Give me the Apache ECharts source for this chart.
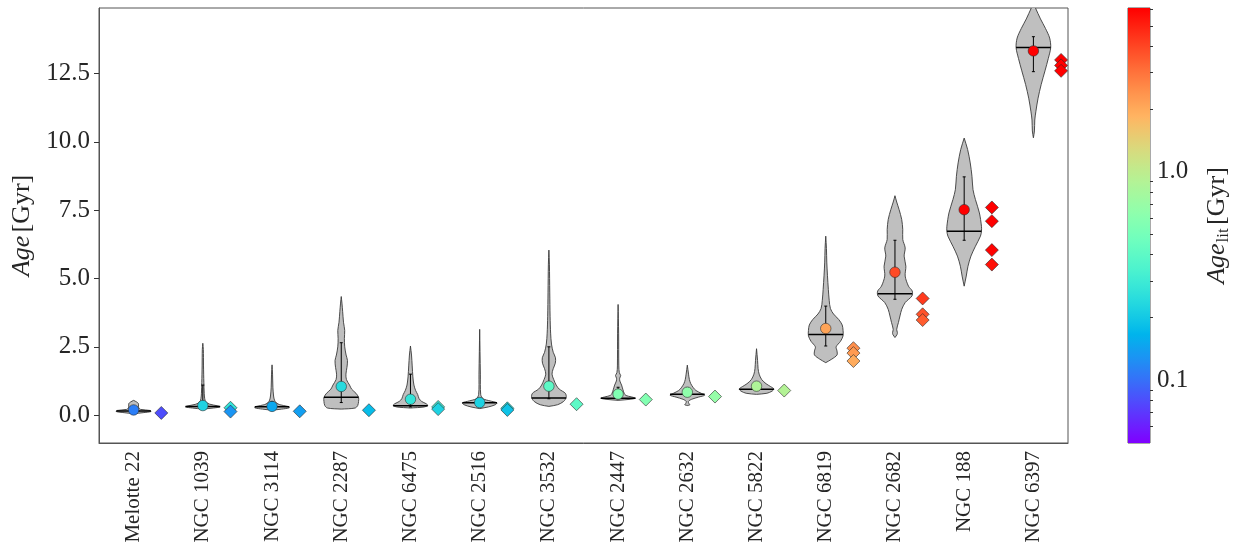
<!DOCTYPE html>
<html>
<head>
<meta charset="utf-8">
<script src="https://cdn.jsdelivr.net/npm/echarts@6/dist/echarts.min.js"></script>
<style>
  html, body { margin: 0; padding: 0; background: #ffffff; }
  #chart { width: 1236px; height: 547px; }
</style>
</head>
<body>
<div id="chart"></div>
<script>
// Cluster names, in plotting order
const clusters = ['Melotte 22', 'NGC 1039', 'NGC 3114', 'NGC 2287', 'NGC 6475', 'NGC 2516', 'NGC 3532',
  'NGC 2447', 'NGC 2632', 'NGC 5822', 'NGC 6819', 'NGC 2682', 'NGC 188', 'NGC 6397'];

// Posterior summaries per cluster (Gyr)
const medianAge = [0.15, 0.32, 0.31, 0.65, 0.34, 0.45, 0.63, 0.62, 0.76, 0.95, 2.95, 4.44, 6.73, 13.45];
const meanAge   = [0.19, 0.35, 0.32, 1.05, 0.58, 0.46, 1.06, 0.77, 0.84, 1.06, 3.17, 5.23, 7.52, 13.33];
const errLow    = [0.14, 0.30, 0.27, 0.46, 0.30, 0.40, 0.60, 0.60, 0.70, 0.95, 2.53, 4.24, 6.40, 12.57];
const errHigh   = [0.26, 1.10, 0.50, 2.65, 1.50, 0.55, 2.50, 1.02, 1.00, 1.18, 3.99, 6.40, 8.72, 13.85];

// Literature ages per cluster (Gyr)
const litAges = [
  [0.08],
  [0.27, 0.13],
  [0.14],
  [0.18],
  [0.30, 0.22],
  [0.25, 0.19],
  [0.40],
  [0.57],
  [0.68],
  [0.90],
  [2.45, 2.27, 1.98],
  [4.27, 3.69, 3.48],
  [7.60, 7.10, 6.04, 5.51],
  [13.0, 12.8, 12.6]
];

// Reference literature age used to colour each cluster's mean marker (Gyr)
const circleLitAge = [0.11, 0.22, 0.15, 0.24, 0.27, 0.22, 0.40, 0.56, 0.64, 0.86, 2.1, 3.9, 6.5, 12.8];

// Violin outlines: [age (Gyr), relative half-width (1 = widest)]
const violinShapes = [
  [[0.05,0],[0.09,0.55],[0.13,1.0],[0.17,0.95],[0.21,0.4],[0.26,0.3],[0.33,0.28],[0.42,0.28],[0.48,0.18],[0.54,0]],
  [[0.22,0],[0.26,0.6],[0.30,1.0],[0.34,0.85],[0.40,0.4],[0.48,0.18],[0.60,0.11],[0.80,0.08],[1.2,0.06],[1.8,0.04],[2.4,0.03],[2.63,0]],
  [[0.18,0],[0.22,0.55],[0.27,1.0],[0.32,0.9],[0.38,0.45],[0.45,0.25],[0.55,0.14],[0.70,0.09],[1.0,0.05],[1.5,0.03],[1.84,0]],
  [[0.22,0],[0.26,0.8],[0.35,0.95],[0.50,1.0],[0.65,1.0],[0.80,0.85],[0.95,0.6],[1.10,0.48],[1.30,0.3],[1.50,0.27],[1.75,0.33],[2.0,0.36],[2.2,0.28],[2.5,0.2],[2.8,0.18],[3.1,0.2],[3.4,0.13],[3.8,0.08],[4.1,0.04],[4.34,0]],
  [[0.26,0],[0.30,0.8],[0.36,1.0],[0.42,0.9],[0.50,0.65],[0.60,0.5],[0.75,0.42],[0.90,0.3],[1.10,0.2],[1.40,0.14],[1.80,0.1],[2.20,0.06],[2.53,0]],
  [[0.24,0],[0.30,0.5],[0.38,0.9],[0.45,1.0],[0.52,0.6],[0.60,0.2],[0.75,0.06],[1.5,0.04],[3.14,0]],
  [[0.32,0],[0.38,0.5],[0.50,0.85],[0.65,1.0],[0.80,0.95],[0.95,0.6],[1.10,0.42],[1.30,0.28],[1.50,0.18],[1.70,0.25],[1.90,0.37],[2.10,0.38],[2.30,0.25],[2.60,0.15],[3.0,0.1],[3.6,0.07],[4.5,0.05],[5.5,0.03],[6.04,0]],
  [[0.54,0],[0.58,0.7],[0.62,1.0],[0.67,0.75],[0.72,0.45],[0.80,0.35],[0.95,0.27],[1.10,0.2],[1.25,0.1],[1.35,0.09],[1.45,0.15],[1.55,0.07],[1.8,0.04],[3.0,0.03],[4.05,0]],
  [[0.35,0],[0.38,0.15],[0.42,0.1],[0.50,0.06],[0.58,0.25],[0.66,0.65],[0.73,1.0],[0.80,0.8],[0.90,0.5],[1.00,0.35],[1.15,0.2],[1.30,0.12],[1.50,0.07],[1.83,0]],
  [[0.76,0],[0.80,0.6],[0.88,0.9],[0.96,1.0],[1.05,0.8],[1.15,0.55],[1.30,0.3],[1.50,0.15],[1.70,0.09],[2.0,0.06],[2.43,0]],
  [[1.92,0],[2.05,0.35],[2.20,0.65],[2.35,0.65],[2.50,0.6],[2.70,0.85],[2.90,1.0],[3.10,1.0],[3.30,0.95],[3.50,0.75],[3.70,0.45],[3.90,0.27],[4.2,0.2],[4.6,0.15],[5.1,0.1],[5.6,0.06],[6.1,0.04],[6.55,0]],
  [[2.84,0],[2.95,0.12],[3.02,0.14],[3.14,0.1],[3.39,0.2],[3.63,0.29],[3.87,0.39],[4.12,0.59],[4.36,0.98],[4.54,1.0],[4.72,0.78],[5.09,0.59],[5.45,0.63],[5.82,0.53],[6.12,0.59],[6.43,0.45],[6.79,0.45],[7.16,0.39],[7.52,0.24],[7.8,0.1],[8.03,0]],
  [[4.72,0],[5.09,0.12],[5.45,0.22],[5.82,0.39],[6.18,0.65],[6.55,0.94],[6.73,1.0],[6.91,1.0],[7.40,0.88],[7.89,0.65],[8.25,0.51],[8.74,0.45],[9.23,0.35],[9.72,0.2],[10.14,0]],
  [[10.15,0],[10.4,0.06],[10.8,0.08],[11.1,0.14],[11.6,0.27],[12.1,0.45],[12.6,0.67],[13.05,0.86],[13.45,1.0],[13.8,0.94],[14.15,0.7],[14.5,0.41],[14.9,0.12],[15.05,0]]
];

// Axis ticks
const yTicks = [0, 2.5, 5, 7.5, 10, 12.5];
const cbarRange = [0.05, 6.1];
const cbarMajorTicks = [0.1, 1];
const cbarMinorTicks = [0.06, 0.07, 0.08, 0.09, 0.2, 0.3, 0.4, 0.5, 0.6, 0.7, 0.8, 0.9, 2, 3, 4, 5, 6];

// ---- colour mapping (rainbow colormap on a log scale) ----
function rainbow(t) {
  t = Math.min(1, Math.max(0, t));
  const r = Math.min(1, Math.abs(2 * t - 0.5));
  const g = Math.sin(Math.PI * t);
  const b = Math.cos(Math.PI * t / 2);
  return 'rgb(' + Math.round(r * 255) + ',' + Math.round(g * 255) + ',' + Math.round(b * 255) + ')';
}
function ageColour(v) {
  const lo = Math.log10(cbarRange[0]), hi = Math.log10(cbarRange[1]);
  return rainbow((Math.log10(v) - lo) / (hi - lo));
}

const serif = '"Liberation Serif", "DejaVu Serif", serif';
const textColour = '#262626';
const frameColour = '#555555';
const HALF = 0.25; // violin half-width in category units
const LIT_OFFSET = 0.4; // literature markers sit to the right of each violin

function violinItem(params, api) {
  const i = api.value(0);
  const shape = violinShapes[i];
  const cx = api.coord([i, 0])[0];
  const hw = api.size([1, 0])[0] * HALF;
  const right = shape.map(p => [cx + p[1] * hw, api.coord([i, p[0]])[1]]);
  const left = shape.slice().reverse().map(p => [cx - p[1] * hw, api.coord([i, p[0]])[1]]);
  return {
    type: 'polygon',
    shape: { points: right.concat(left), smooth: 0.3 },
    style: { fill: '#bfbfbf', stroke: '#3a3a3a', lineWidth: 0.9 }
  };
}

function summaryItem(params, api) {
  const i = api.value(0);
  const cx = api.coord([i, 0])[0];
  const hw = api.size([1, 0])[0] * HALF;
  const ym = api.coord([i, medianAge[i]])[1];
  const yl = api.coord([i, errLow[i]])[1];
  const yh = api.coord([i, errHigh[i]])[1];
  const line = { stroke: '#000000', lineWidth: 1 };
  return {
    type: 'group',
    children: [
      { type: 'line', shape: { x1: cx - hw, y1: ym, x2: cx + hw, y2: ym }, style: { stroke: '#000', lineWidth: 1.5 } },
      { type: 'line', shape: { x1: cx, y1: yl, x2: cx, y2: yh }, style: line },
      { type: 'line', shape: { x1: cx - 1.5, y1: yl, x2: cx + 1.5, y2: yl }, style: line },
      { type: 'line', shape: { x1: cx - 1.5, y1: yh, x2: cx + 1.5, y2: yh }, style: line }
    ]
  };
}

function diamondItem(params, api) {
  const i = api.value(0);
  const p = api.coord([i, api.value(1)]);
  const cx = p[0] + api.size([1, 0])[0] * LIT_OFFSET;
  const r = 6.5;
  return {
    type: 'polygon',
    shape: { points: [[cx, p[1] - r], [cx + r, p[1]], [cx, p[1] + r], [cx - r, p[1]]] },
    style: { fill: ageColour(api.value(1)), stroke: 'rgba(40,40,40,0.75)', lineWidth: 0.8 }
  };
}

function colourbarItem(params, api) {
  const p0 = api.coord([api.value(0), api.value(1)]);
  const p1 = api.coord([api.value(2), api.value(3)]);
  const stops = [];
  for (let k = 0; k <= 60; k++) stops.push({ offset: k / 60, color: rainbow(k / 60) });
  return {
    type: 'rect',
    shape: { x: p0[0], y: p1[1], width: p1[0] - p0[0], height: p0[1] - p1[1] },
    style: { fill: new echarts.graphic.LinearGradient(0, 1, 0, 0, stops) }
  };
}

const idx = clusters.map((c, i) => [i]);
const meanPoints = clusters.map((c, i) => ({
  value: [i, meanAge[i]],
  itemStyle: { color: ageColour(circleLitAge[i]) }
}));
const litPoints = [];
litAges.forEach((arr, i) => arr.forEach(v => litPoints.push([i, v])));

const chart = echarts.init(document.getElementById('chart'), null, { renderer: 'canvas' });
chart.setOption({
  animation: false,
  grid: [
    { left: 99, right: 168, top: 8, bottom: 104, show: true, borderColor: frameColour, borderWidth: 1 },
    { left: 1128, right: 86, top: 8, bottom: 104, show: true, borderColor: frameColour, borderWidth: 1 }
  ],
  xAxis: [
    {
      type: 'category', gridIndex: 0, data: clusters, boundaryGap: true,
      axisLine: { onZero: false, lineStyle: { color: frameColour } },
      axisTick: { alignWithLabel: true, length: 5, lineStyle: { color: '#333' } },
      axisLabel: { rotate: 90, interval: 0, fontFamily: serif, fontSize: 21, color: textColour, margin: 8 },
      splitLine: { show: false }
    },
    { type: 'value', gridIndex: 1, min: 0, max: 1, show: false }
  ],
  yAxis: [
    {
      type: 'value', gridIndex: 0, min: -1.02, max: 14.9,
      splitLine: { show: false },
      axisLine: { show: true, onZero: false, lineStyle: { color: frameColour } },
      axisTick: { show: true, length: 5, customValues: yTicks, lineStyle: { color: '#333' } },
      axisLabel: { customValues: yTicks, formatter: v => Number(v).toFixed(1), fontFamily: serif, fontSize: 25, color: textColour, margin: 9 },
      name: '{it|Age} {up|[Gyr]}', nameLocation: 'middle', nameGap: 63, nameRotate: 90,
      nameTextStyle: {
        rich: {
          it: { fontFamily: serif, fontStyle: 'italic', fontSize: 26, color: textColour },
          up: { fontFamily: serif, fontSize: 26, color: textColour }
        }
      }
    },
    {
      type: 'log', logBase: 10, gridIndex: 1, min: cbarRange[0], max: cbarRange[1], position: 'right',
      splitLine: { show: false },
      axisLine: { show: false },
      axisTick: { show: true, length: 5, customValues: cbarMajorTicks, lineStyle: { color: '#333' } },
      axisLabel: { customValues: cbarMajorTicks, formatter: v => Number(v).toFixed(1), fontFamily: serif, fontSize: 25, color: textColour, margin: 7 },
      name: '{it|Age}{sub|lit} {up|[Gyr]}', nameLocation: 'middle', nameGap: 53, nameRotate: 90,
      nameTextStyle: {
        rich: {
          it: { fontFamily: serif, fontStyle: 'italic', fontSize: 26, color: textColour },
          sub: { fontFamily: serif, fontSize: 17, color: textColour, padding: [12, 0, 0, 1] },
          up: { fontFamily: serif, fontSize: 26, color: textColour }
        }
      }
    },
    {
      type: 'log', logBase: 10, gridIndex: 1, min: cbarRange[0], max: cbarRange[1], position: 'right',
      splitLine: { show: false },
      axisLine: { show: false },
      axisTick: { show: true, length: 3, customValues: cbarMinorTicks, lineStyle: { color: '#333' } },
      axisLabel: { show: false }
    }
  ],
  series: [
    { type: 'custom', name: 'violins', xAxisIndex: 0, yAxisIndex: 0, renderItem: violinItem, data: idx, z: 2, clip: true },
    { type: 'custom', name: 'summary', xAxisIndex: 0, yAxisIndex: 0, renderItem: summaryItem, data: idx, z: 3, clip: true },
    {
      type: 'scatter', name: 'mean', xAxisIndex: 0, yAxisIndex: 0, data: meanPoints, z: 4,
      symbol: 'circle', symbolSize: 10.5,
      itemStyle: { borderColor: 'rgba(40,40,40,0.8)', borderWidth: 0.7, opacity: 1 }
    },
    { type: 'custom', name: 'literature', xAxisIndex: 0, yAxisIndex: 0, renderItem: diamondItem, data: litPoints, z: 5, clip: true },
    { type: 'custom', name: 'colourbar', xAxisIndex: 1, yAxisIndex: 1, renderItem: colourbarItem, data: [[0, cbarRange[0], 1, cbarRange[1]]], z: 1 }
  ]
});
</script>
</body>
</html>
